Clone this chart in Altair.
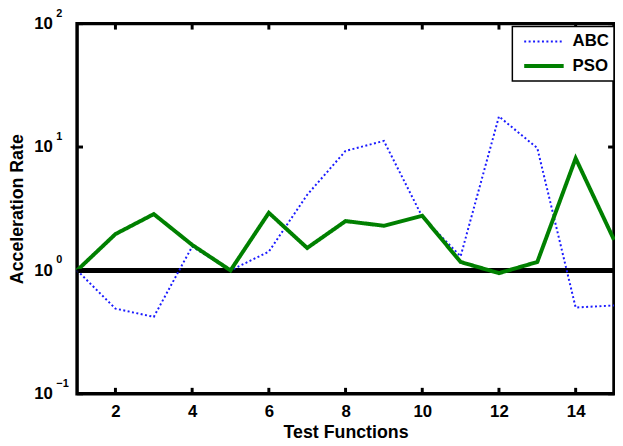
import altair as alt
import pandas as pd

funcs = list(range(1, 16))
abc = [1.0, 0.49, 0.42, 1.56, 1.0, 1.42, 4.1, 9.3, 11.2, 2.72, 1.30, 17.7, 9.8, 0.50, 0.52]
pso = [1.0, 1.97, 2.86, 1.61, 1.0, 2.93, 1.52, 2.51, 2.30, 2.77, 1.17, 0.95, 1.17, 8.1, 1.77]
series_names = ["ABC", "PSO"]
x_ticks = [2, 4, 6, 8, 10, 12, 14]
y_ticks = [0.1, 1, 10, 100]
y_exp = ["\u22121", "0", "1", "2"]

df = pd.DataFrame({
    "func": funcs * 2,
    "rate": abc + pso,
    "series": ["ABC"] * len(funcs) + ["PSO"] * len(funcs),
})
xt = pd.DataFrame({"x": x_ticks})
yt = pd.DataFrame({"y": y_ticks, "exp": y_exp})

xscale = alt.Scale(domain=[1, 15], nice=False, zero=False)
yscale = alt.Scale(type="log", domain=[0.1, 100], nice=False)

base_font = "Liberation Sans"
TICK_COLOR = "black"

ref = alt.Chart(df).mark_rule(color="black", strokeWidth=4).encode(
    y=alt.datum(1, scale=yscale)
)

lines = alt.Chart(df).mark_line(strokeCap="butt").encode(
    x=alt.X("func:Q", scale=xscale,
            axis=alt.Axis(values=x_ticks, format="d", title="Test Functions",
                          domain=False, ticks=False, grid=False, tickSize=0,
                          labelPadding=10, labelFlush=False, titlePadding=4)),
    y=alt.Y("rate:Q", scale=yscale,
            axis=alt.Axis(values=y_ticks, labelExpr="'10'", title="Acceleration Rate",
                          domain=False, ticks=False, grid=False, tickSize=0,
                          labelPadding=25, titlePadding=7)),
    color=alt.Color("series:N", scale=alt.Scale(domain=series_names, range=["#1a1aff", "#008000"]),
                    legend=alt.Legend(title=None)),
    strokeDash=alt.StrokeDash("series:N", scale=alt.Scale(domain=series_names, range=[[2, 2.5], [1, 0]]),
                              legend=alt.Legend(title=None)),
    strokeWidth=alt.StrokeWidth("series:N", scale=alt.Scale(domain=series_names, range=[2, 4]),
                                legend=alt.Legend(title=None)),
)

tick_x_bottom = alt.Chart(xt).mark_rule(color=TICK_COLOR, strokeWidth=3, y2Offset=-6).encode(
    x=alt.X("x:Q", scale=xscale), y=alt.datum(0.1, scale=yscale), y2=alt.datum(0.1))
tick_x_top = alt.Chart(xt).mark_rule(color=TICK_COLOR, strokeWidth=3, y2Offset=6).encode(
    x=alt.X("x:Q", scale=xscale), y=alt.datum(100, scale=yscale), y2=alt.datum(100))
tick_y_left = alt.Chart(yt).mark_rule(color=TICK_COLOR, strokeWidth=3, x2Offset=6).encode(
    y=alt.Y("y:Q", scale=yscale), x=alt.datum(1, scale=xscale), x2=alt.datum(1))
tick_y_right = alt.Chart(yt).mark_rule(color=TICK_COLOR, strokeWidth=3, x2Offset=-6).encode(
    y=alt.Y("y:Q", scale=yscale), x=alt.datum(15, scale=xscale), x2=alt.datum(15))

exps = alt.Chart(yt).mark_text(align="left", baseline="middle", dx=-21, dy=-10, fontSize=11,
                               fontWeight="bold", font=base_font, color="black").encode(
    x=alt.datum(1, scale=xscale), y=alt.Y("y:Q", scale=yscale), text="exp:N")

chart = alt.layer(ref, lines, tick_x_bottom, tick_x_top, tick_y_left, tick_y_right, exps).properties(
    width=544, height=375,
    autosize=alt.AutoSizeParams(type="none"),
    padding={"left": 70, "top": 13, "right": 1, "bottom": 45},
).configure(font=base_font).configure_view(
    stroke="black", strokeWidth=3.5
).configure_axis(
    labelFont=base_font, labelFontSize=17, labelFontWeight="bold", labelColor="black",
    titleFont=base_font, titleFontSize=18, titleFontWeight="bold", titleColor="black",
).configure_legend(
    orient="none", legendX=441, legendY=3, strokeColor="black", strokeWidth=1.5,
    fillColor="white", padding=5, symbolOffset=5, labelFont=base_font, labelFontSize=17,
    labelFontWeight="bold", labelColor="black", symbolType="stroke", symbolSize=1600,
    clipHeight=20, rowPadding=5, labelOffset=7,
)

chart.save("out.html", embed_options={"renderer": "svg", "actions": False})
